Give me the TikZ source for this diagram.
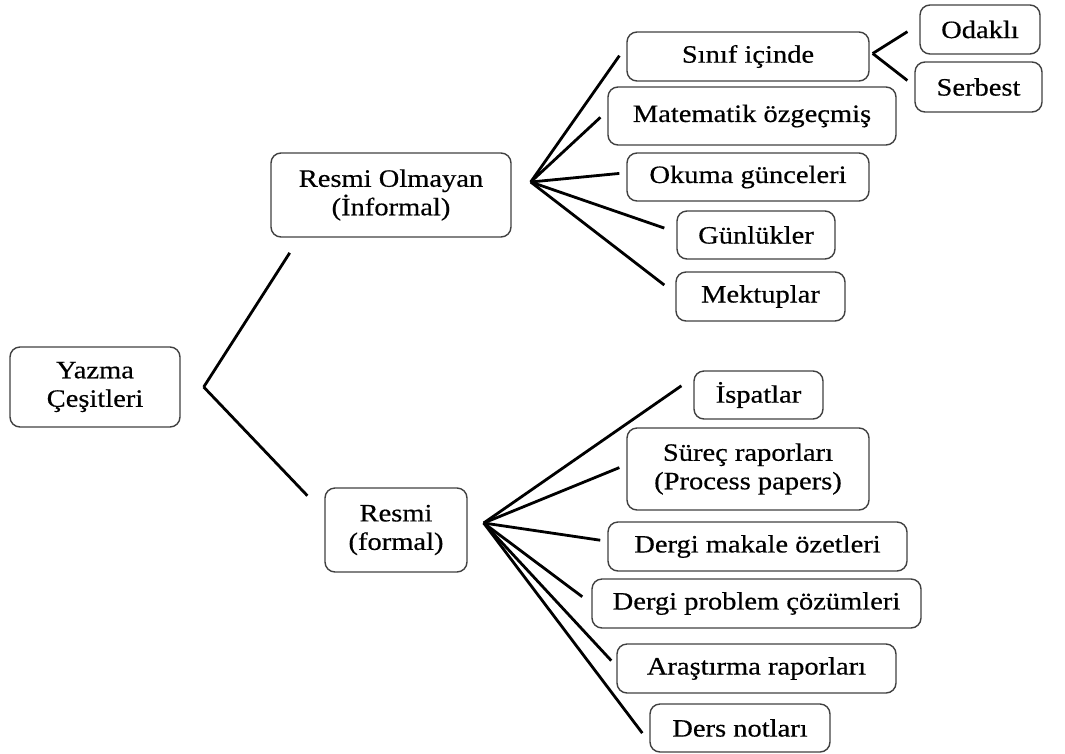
\documentclass[tikz,border=0pt]{standalone}
\usepackage{fontspec}
\setmainfont{Liberation Serif}[FakeStretch=1.14,FakeBold=0.5]

\begin{document}
\begin{tikzpicture}[x=1pt,y=-1pt,
    kutu/.style={draw=black!75,line width=1.4pt,rounded corners=10pt,align=center,inner sep=0pt,
      font=\fontsize{25}{28.5}\selectfont},
    dal/.style={line width=2.8pt}]
        \useasboundingbox (0,0) rectangle (1065,753);

        \node[kutu,minimum width=170pt,minimum height=80pt] (yazma) at (95,387) {Yazma\\Çeşitleri};
        \node[kutu,minimum width=240pt,minimum height=84pt] (olmayan) at (391,195) {Resmi Olmayan\\(İnformal)};
        \node[kutu,minimum width=142pt,minimum height=84pt] (resmi) at (396,530) {Resmi\\(formal)};

        \node[kutu,minimum width=242pt,minimum height=49pt] (sinif) at (748,56.5) {Sınıf içinde};
        \node[kutu,minimum width=288pt,minimum height=58pt] (ozgecmis) at (752,116) {Matematik özgeçmiş};
        \node[kutu,minimum width=242pt,minimum height=48pt] (okuma) at (748,177) {Okuma günceleri};
        \node[kutu,minimum width=158pt,minimum height=48pt] (gunluk) at (756,235) {Günlükler};
        \node[kutu,minimum width=169pt,minimum height=49pt] (mektup) at (760.5,296.5) {Mektuplar};
        \node[kutu,minimum width=120pt,minimum height=49pt] (odakli) at (980,29.5) {Odaklı};
        \node[kutu,minimum width=127pt,minimum height=50pt] (serbest) at (978.5,87) {Serbest};

        \node[kutu,minimum width=129pt,minimum height=48pt] (ispat) at (758.5,395) {İspatlar};
        \node[kutu,minimum width=242pt,minimum height=82pt] (surec) at (748,469) {Süreç raporları\\(Process papers)};
        \node[kutu,minimum width=299pt,minimum height=49pt] (makale) at (757.5,546.5) {Dergi makale özetleri};
        \node[kutu,minimum width=329pt,minimum height=49pt] (problem) at (756.5,603.5) {Dergi problem çözümleri};
        \node[kutu,minimum width=279pt,minimum height=49pt] (arastirma) at (756.5,668.5) {Araştırma raporları};
        \node[kutu,minimum width=180pt,minimum height=48pt] (ders) at (740,728) {Ders notları};

        \coordinate (kok) at ([xshift=23pt]yazma.east);
        \coordinate (iv) at ([xshift=19pt,yshift=13pt]olmayan.east);
        \coordinate (sv) at ([xshift=3pt,yshift=3pt]sinif.east);
        \coordinate (fv) at ([xshift=16pt,yshift=7pt]resmi.east);

        \draw[dal,shorten >=18pt] (kok) -- (olmayan.205.2);
        \draw[dal,shorten >=24.5pt] (kok) -- (resmi.167.8);

        \foreach \n/\a/\s in {sinif/175.1/12pt,ozgecmis/178.7/9.4pt,okuma/178.3/7pt,gunluk/178.7/12.7pt,mektup/178.6/13.9pt}
          \draw[dal,shorten >=\s] (iv) -- (\n.\a);
        \foreach \n/\a/\s in {odakli/175.5/14pt,serbest/179.4/8.8pt}
          \draw[dal,shorten >=\s] (sv) -- (\n.\a);
        \foreach \n/\a/\s in {ispat/165.9/14.5pt,surec/178.2/7.5pt,makale/178.7/7.1pt,problem/180.8/11.3pt,arastirma/179.5/7.4pt,ders/189/11.6pt}
          \draw[dal,shorten >=\s] (fv) -- (\n.\a);
      \end{tikzpicture}
\end{document}
